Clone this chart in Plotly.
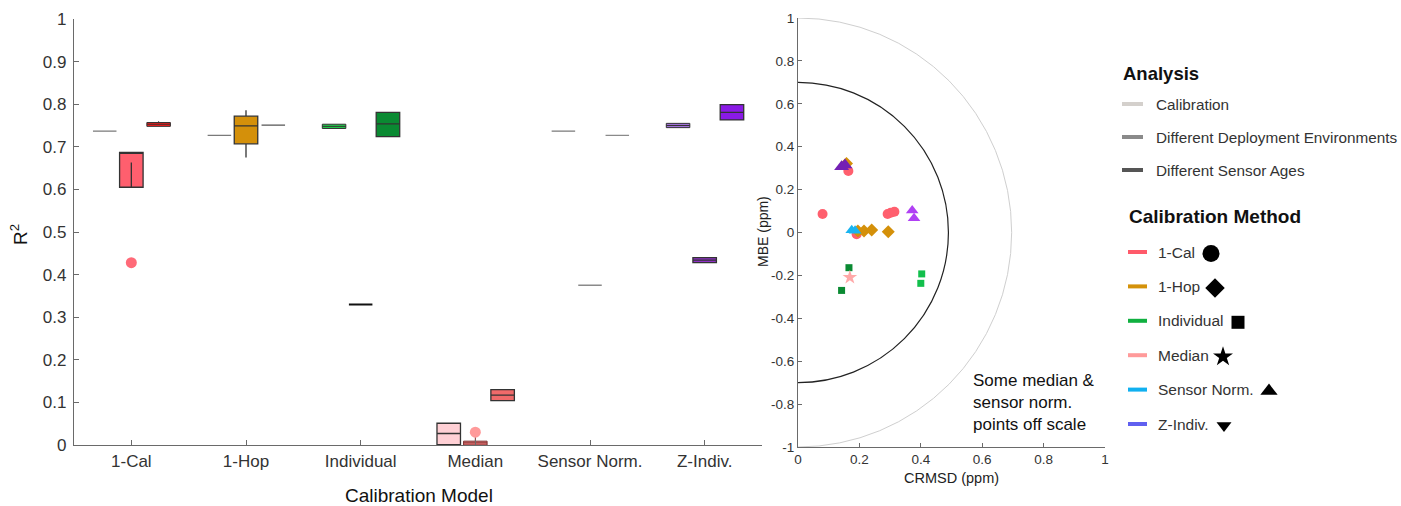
import plotly.graph_objects as go

W, H = 1401, 506
FONT = "Liberation Sans, Arial, sans-serif"

# ---------------- data: box plot (R^2) ----------------
methods = ["1-Cal", "1-Hop", "Individual", "Median", "Sensor Norm.", "Z-Indiv."]
analyses = ["Calibration", "Different Deployment Environments", "Different Sensor Ages"]

cal_q1 = [0.737, 0.727, 0.743, 0.001, 0.737, 0.745]
cal_med = [0.737, 0.727, 0.748, 0.027, 0.737, 0.750]
cal_q3 = [0.737, 0.727, 0.753, 0.051, 0.737, 0.755]
cal_lo = [0.737, 0.727, 0.743, 0.001, 0.737, 0.745]
cal_hi = [0.737, 0.727, 0.753, 0.051, 0.737, 0.755]

dep_q1 = [0.605, 0.707, 0.330, 0.000, 0.375, 0.428]
dep_med = [0.687, 0.749, 0.330, 0.005, 0.375, 0.434]
dep_q3 = [0.687, 0.772, 0.330, 0.009, 0.375, 0.440]
dep_lo = [0.663, 0.675, 0.330, 0.000, 0.375, 0.428]
dep_hi = [0.687, 0.786, 0.330, 0.020, 0.375, 0.440]

age_q1 = [0.748, 0.751, 0.724, 0.104, 0.727, 0.763]
age_med = [0.753, 0.751, 0.754, 0.117, 0.727, 0.781]
age_q3 = [0.757, 0.751, 0.781, 0.130, 0.727, 0.799]
age_lo = [0.748, 0.751, 0.724, 0.104, 0.727, 0.763]
age_hi = [0.760, 0.751, 0.781, 0.130, 0.727, 0.799]

# outliers (deployment analysis)
outlier_method = ["1-Cal", "Median"]
outlier_value = [0.428, 0.030]

# ---------------- data: target diagram ----------------
cal1_x = [0.191, 0.080, 0.164, 0.292, 0.302, 0.314]
cal1_y = [-0.008, 0.086, 0.287, 0.086, 0.092, 0.097]
hop_x = [0.158, 0.195, 0.215, 0.240, 0.294]
hop_y = [0.322, 0.007, 0.007, 0.012, 0.004]
ind_dark_x = [0.166, 0.142]
ind_dark_y = [-0.164, -0.270]
ind_bright_x = [0.403, 0.400]
ind_bright_y = [-0.193, -0.237]
med_x = [0.169]
med_y = [-0.209]
sn_x = [0.175, 0.186]
sn_y = [0.010, 0.008]
zi_dark_x = [0.142, 0.153]
zi_dark_y = [0.307, 0.315]
zi_bright_x = [0.372, 0.378]
zi_bright_y = [0.102, 0.066]

target_ticks = [-1, -0.8, -0.6, -0.4, -0.2, 0, 0.2, 0.4, 0.6, 0.8, 1]
target_ticklabels = ["-1", "-0.8", "-0.6", "-0.4", "-0.2", "0", "0.2", "0.4", "0.6", "0.8", "1"]
crmsd_ticks = [0, 0.2, 0.4, 0.6, 0.8, 1]
crmsd_ticklabels = ["0", "0.2", "0.4", "0.6", "0.8", "1"]

# ---------------- styles ----------------
fills = {
    "Calibration": ["#8a8a8a", "#8a8a8a", "#22cc4c", "#ffd0d5", "#8a8a8a", "#a070d8"],
    "Different Deployment Environments": ["#ff5f6e", "#d4900a", "#111111", "#f07a7a", "#8a8a8a", "#9030c8"],
    "Different Sensor Ages": ["#ff1a1a", "#555555", "#0a8a32", "#f06a6a", "#8a8a8a", "#8a1ae6"],
}
edge_single = {  # colour for degenerate (single value) boxes
    "Calibration": ["#7a7a7a", "#7a7a7a", None, None, "#7a7a7a", None],
    "Different Deployment Environments": [None, None, "#111111", None, "#8a8a8a", None],
    "Different Sensor Ages": [None, "#555555", None, None, "#8a8a8a", None],
}
offsets = [-0.232, 0.0, 0.238]
box_w = 0.205

fig = go.Figure()

series = [
    ("Calibration", cal_q1, cal_med, cal_q3, cal_lo, cal_hi),
    ("Different Deployment Environments", dep_q1, dep_med, dep_q3, dep_lo, dep_hi),
    ("Different Sensor Ages", age_q1, age_med, age_q3, age_lo, age_hi),
]
for j, (an, q1, md, q3, lo, hi) in enumerate(series):
    for i, m in enumerate(methods):
        single = edge_single[an][i]
        thin = (q3[i] - q1[i]) < 0.012 and not single
        lc = single if single else ("#7a3030" if (thin and q3[i] < 0.05) else "#333333")
        lw = 2 if lc == "#111111" else (1.0 if thin else 1.3)
        pos = i + 1 + offsets[j]
        fig.add_trace(go.Box(
            x=[pos], q1=[q1[i]], median=[md[i]], q3=[q3[i]],
            lowerfence=[min(lo[i], q1[i])], upperfence=[max(hi[i], q3[i])],
            width=box_w, whiskerwidth=0, fillcolor=fills[an][i],
            line=dict(color=lc, width=lw), showlegend=False,
            xaxis="x", yaxis="y", boxpoints=False,
        ))
        # adjacent value lying inside the box (drawn as in the original)
        if lo[i] > q1[i]:
            fig.add_trace(go.Scatter(x=[pos, pos], y=[q1[i], lo[i]], mode="lines",
                                     line=dict(color="#333333", width=1.3),
                                     showlegend=False, xaxis="x", yaxis="y"))

for m, v in zip(outlier_method, outlier_value):
    i = methods.index(m)
    fig.add_trace(go.Scatter(
        x=[i + 1 + offsets[1]], y=[v], mode="markers",
        marker=dict(color="#ff6a78" if m == "1-Cal" else "#ff9a9a", size=11, line=dict(width=0)),
        showlegend=False, xaxis="x", yaxis="y", cliponaxis=False))

# target diagram points
def pts(x, y, sym, color, size):
    fig.add_trace(go.Scatter(x=x, y=y, mode="markers", xaxis="x2", yaxis="y2",
                             marker=dict(symbol=sym, color=color, size=size, line=dict(width=0)),
                             showlegend=False))

pts(cal1_x, cal1_y, "circle", "#ff5f6e", 10)
pts(hop_x, hop_y, "diamond", "#d4900a", 10)
pts(ind_dark_x, ind_dark_y, "square", "#0a8a32", 7)
pts(ind_bright_x, ind_bright_y, "square", "#12bf4c", 7)
pts(med_x, med_y, "star", "#ffa8a8", 11)
pts(sn_x, sn_y, "triangle-up", "#18b4f0", 11)
pts(zi_dark_x, zi_dark_y, "triangle-up", "#7420b4", 13)
pts(zi_bright_x, zi_bright_y, "triangle-up", "#b040f4", 11)

axcol = "#6a6a6a"
tickfont_l = dict(family=FONT, size=17, color="#333333")
tickfont_r = dict(family=FONT, size=13.5, color="#333333")

fig.update_layout(
    width=W, height=H, margin=dict(l=0, r=0, t=0, b=0, pad=0, autoexpand=False),
    paper_bgcolor="white", plot_bgcolor="rgba(0,0,0,0)",
    boxmode="overlay", showlegend=False,
    font=dict(family=FONT),
    xaxis=dict(domain=[74 / W, 762 / W], range=[0.5, 6.5], tickvals=list(range(1, 7)),
               ticktext=methods, ticks="inside", ticklen=5, tickcolor=axcol,
               showline=True, linecolor=axcol, linewidth=1.2, showgrid=False, zeroline=False,
               tickfont=tickfont_l, anchor="y", automargin=False),
    yaxis=dict(domain=[1 - 445 / H, 1 - 19 / H], range=[0, 1], dtick=0.1, tick0=0,
               ticks="inside", ticklen=5, tickcolor=axcol, showline=True, linecolor=axcol,
               linewidth=1.2, showgrid=False, zeroline=False, tickfont=tickfont_l,
               ticklabelstandoff=3, anchor="x", automargin=False),
    xaxis2=dict(domain=[798 / W, 1105 / W], range=[0, 1], tickvals=crmsd_ticks,
                ticktext=crmsd_ticklabels, ticks="inside", ticklen=4, tickcolor=axcol,
                showline=True, linecolor=axcol, linewidth=1, showgrid=False, zeroline=False,
                tickfont=tickfont_r, anchor="y2", automargin=False),
    yaxis2=dict(domain=[1 - 447 / H, 1 - 18 / H], range=[-1, 1], tickvals=target_ticks,
                ticktext=target_ticklabels, ticks="inside", ticklen=4, tickcolor=axcol,
                showline=True, linecolor=axcol, linewidth=1, showgrid=False, zeroline=False,
                tickfont=tickfont_r, anchor="x2", automargin=False),
    # hidden overlay in pixel units, used only for the legend glyphs
    xaxis3=dict(domain=[0, 1], range=[0, W], visible=False, anchor="y3", automargin=False),
    yaxis3=dict(domain=[0, 1], range=[H, 0], visible=False, anchor="x3", automargin=False),
)

# target circles (clipped to plot area)
fig.add_shape(type="circle", xref="x2", yref="y2", x0=-0.696, x1=0.696, y0=-1, y1=1,
              line=dict(color="#cfcfcf", width=1), layer="below")
fig.add_shape(type="circle", xref="x2", yref="y2", x0=-0.49, x1=0.49, y0=-0.7, y1=0.7,
              line=dict(color="#222222", width=1.2), layer="below")

def px(x):
    return x / W

def py(y):
    return 1 - y / H

def text(t, x, y, size, color="#111111", xanchor="left", angle=0, align="left"):
    return dict(text=t, x=px(x), y=py(y), xref="paper", yref="paper", xanchor=xanchor,
                yanchor="middle", textangle=angle, align=align, showarrow=False,
                font=dict(family=FONT, size=size, color=color))

ann = []
ann.append(text("Calibration Model", 419, 495, 19, xanchor="center"))
ann.append(text("R<sup>2</sup>", 19, 235, 19, xanchor="center", angle=-90))
ann.append(text("CRMSD (ppm)", 951, 478, 14.5, color="#222222", xanchor="center"))
ann.append(text("MBE (ppm)", 763, 232, 14, color="#222222", xanchor="center", angle=-90))
ann.append(text("Some median &amp;<br>sensor norm.<br>points off scale", 971, 402, 17))

# Legend: Analysis
analysis_colors = ["#d4d0cc", "#8a8a8a", "#555555"]
ann.append(text("<b>Analysis</b>", 1121, 73, 18.5))
for k, (name, c) in enumerate(zip(analyses, analysis_colors)):
    yy = 104 + k * 33
    fig.add_shape(type="line", xref="paper", yref="paper", x0=px(1122), x1=px(1143),
                  y0=py(yy), y1=py(yy), line=dict(color=c, width=4))
    ann.append(text(name, 1154, yy, 15.3, color="#333333"))

# Legend: Calibration Method
method_colors = ["#ff5a6a", "#d4920a", "#10b040", "#ff9a9a", "#10b0f0", "#6060f0"]
legend_symbols = ["circle", "diamond", "square", "star", "triangle-up", "triangle-down"]
legend_sym_size = [17, 15, 13, 15, 15, 13]
legend_sym_x = [1211, 1215, 1238, 1223, 1269, 1224]
ann.append(text("<b>Calibration Method</b>", 1127, 217, 19))
for k, (name, c) in enumerate(zip(methods, method_colors)):
    yy = 252 + k * 34.4
    fig.add_shape(type="line", xref="paper", yref="paper", x0=px(1128), x1=px(1147),
                  y0=py(yy), y1=py(yy), line=dict(color=c, width=4))
    ann.append(text(name, 1156, yy, 15.5, color="#333333"))
    fig.add_trace(go.Scatter(x=[legend_sym_x[k]], y=[yy + 1.5], mode="markers", xaxis="x3", yaxis="y3",
                             marker=dict(symbol=legend_symbols[k], color="black",
                                         size=legend_sym_size[k], line=dict(width=0)),
                             showlegend=False, hoverinfo="skip", cliponaxis=False))

fig.update_layout(annotations=ann)
fig.write_html("out.html")
